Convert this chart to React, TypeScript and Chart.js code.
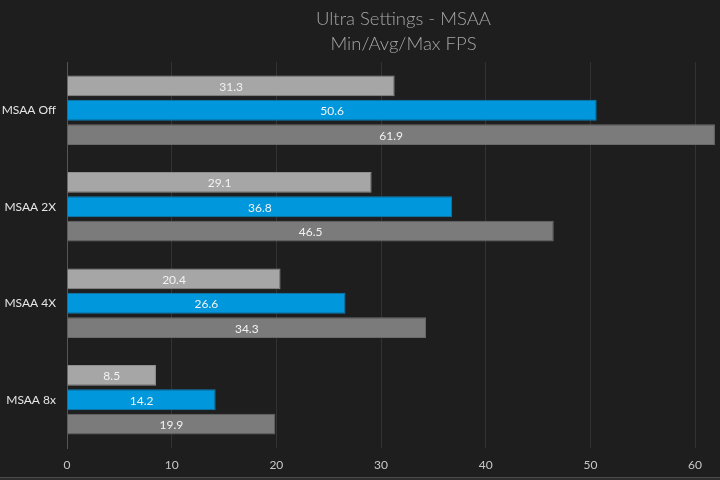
import React, { useEffect, useRef } from "react";
import { Chart, registerables } from "chart.js";
Chart.register(...registerables);

const categories = ["MSAA Off", "MSAA 2X", "MSAA 4X", "MSAA 8x"];
const minFps = [31.3, 29.1, 20.4, 8.5];
const avgFps = [50.6, 36.8, 26.6, 14.2];
const maxFps = [61.9, 46.5, 34.3, 19.9];
const titleLines = ["Ultra Settings - MSAA", "Min/Avg/Max FPS"];
const xTicks = [0, 10, 20, 30, 40, 50, 60];

const BG = "#1e1e1e";

const bgPlugin = {
  id: "bg",
  beforeDraw(chart: any) {
    const { ctx, width, height } = chart;
    ctx.save();
    ctx.fillStyle = BG;
    ctx.fillRect(0, 0, width, height);
    ctx.restore();
  },
};

const titlePlugin = {
  id: "customTitle",
  afterDraw(chart: any) {
    const { ctx, chartArea } = chart;
    const cx = (chartArea.left + chartArea.right) / 2 + 12;
    ctx.save();
    ctx.fillStyle = "#a6a6a6";
    ctx.font = "300 18.5px Lato, 'Open Sans', sans-serif";
    ctx.textAlign = "center";
    ctx.textBaseline = "middle";
    ctx.fillText(titleLines[0], cx, 19);
    ctx.fillText(titleLines[1], cx, 44);
    ctx.restore();
  },
};

const labelPlugin = {
  id: "barLabels",
  afterDatasetsDraw(chart: any) {
    const { ctx } = chart;
    ctx.save();
    ctx.fillStyle = "#f2f2f2";
    ctx.font = "12px Lato, 'Open Sans', sans-serif";
    ctx.textAlign = "center";
    ctx.textBaseline = "middle";
    chart.data.datasets.forEach((ds: any, i: number) => {
      const meta = chart.getDatasetMeta(i);
      meta.data.forEach((bar: any, j: number) => {
        const x = (bar.x + bar.base) / 2;
        ctx.fillText(ds.data[j].toFixed(1), x, bar.y + 1);
      });
    });
    ctx.restore();
  },
};

const bottomStripPlugin = {
  id: "bottomStrip",
  afterDraw(chart: any) {
    const { ctx, width, height } = chart;
    ctx.save();
    ctx.fillStyle = "#2c2c2c";
    ctx.fillRect(0, height - 3, width, 3);
    ctx.fillStyle = "#4a4a4a";
    ctx.fillRect(0, height - 3, width, 1);
    ctx.restore();
  },
};

export default function App() {
  const ref = useRef<HTMLCanvasElement | null>(null);
  useEffect(() => {
    if (!ref.current) return;
    const chart = new Chart(ref.current, {
      type: "bar",
      data: {
        labels: categories,
        datasets: [
          {
            label: "Min",
            data: minFps,
            backgroundColor: "#a6a6a6",
            borderColor: "#8f8f8f",
            borderWidth: 1,
            categoryPercentage: 0.76,
            barPercentage: 0.85,
          },
          {
            label: "Avg",
            data: avgFps,
            backgroundColor: "#0097dc",
            borderColor: "#0b7fb8",
            borderWidth: 1,
            categoryPercentage: 0.76,
            barPercentage: 0.85,
          },
          {
            label: "Max",
            data: maxFps,
            backgroundColor: "#7b7b7b",
            borderColor: "#6a6a6a",
            borderWidth: 1,
            categoryPercentage: 0.76,
            barPercentage: 0.85,
          },
        ],
      },
      options: {
        indexAxis: "y",
        animation: false,
        responsive: false,
        maintainAspectRatio: false,
        layout: { padding: { top: 62, right: 4, left: 0, bottom: 0 } },
        plugins: {
          legend: { display: false },
          title: { display: false },
          tooltip: { enabled: false },
        },
        scales: {
          x: {
            min: 0,
            max: 62,
            ticks: {
              stepSize: 10,
              color: "#c8c8c8",
              font: { family: "Lato, 'Open Sans', sans-serif", size: 12 },
              padding: 10,
            },
            afterBuildTicks(scale: any) {
              scale.ticks = xTicks.map((v) => ({ value: v }));
            },
            afterFit(scale: any) {
              scale.height = 32;
            },
            grid: {
              color: "#333333",
              drawTicks: false,
            },
            border: { display: false },
          },
          y: {
            ticks: {
              color: "#e6e6e6",
              font: { family: "Lato, 'Open Sans', sans-serif", size: 12 },
              padding: 11,
            },
            afterFit(scale: any) {
              scale.width = 67;
            },
            grid: { display: false, drawTicks: false },
            border: { display: true, color: "#555555", width: 1 },
          },
        },
      },
      plugins: [bgPlugin, titlePlugin, labelPlugin, bottomStripPlugin],
    } as any);
    return () => chart.destroy();
  }, []);
  return (
    <div style={{ position: "fixed", left: 0, top: 0, width: 720, height: 480, background: BG }}>
      <canvas ref={ref} width={720} height={480} style={{ width: 720, height: 480 }} />
    </div>
  );
}
